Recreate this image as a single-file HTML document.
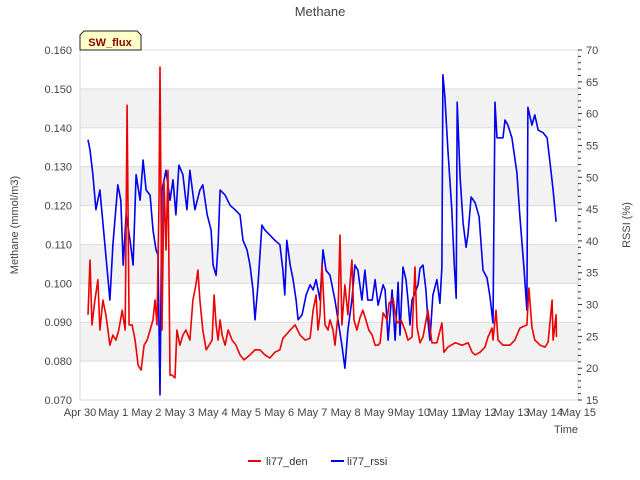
<!DOCTYPE html>
<html><head><meta charset="utf-8"><style>
body{margin:0;background:#fff;}
svg text{font-family:"Liberation Sans","DejaVu Sans",sans-serif;}
</style></head><body>
<svg id="chart" width="640" height="480" xmlns="http://www.w3.org/2000/svg">
<g id="bands"></g><g id="grid"></g>
<g id="series"></g><g id="axes"></g>
</svg>
<script>
const xTickLabels=["Apr 30","May 1","May 2","May 3","May 4","May 5","May 6","May 7","May 8","May 9","May 10","May 11","May 12","May 13","May 14","May 15"];
const leftTicks=[0.070,0.080,0.090,0.100,0.110,0.120,0.130,0.140,0.150,0.160];
const rightTicks=[15,20,25,30,35,40,45,50,55,60,65,70];
const denDays=[0.24,0.30,0.36,0.45,0.54,0.60,0.69,0.78,0.90,0.99,1.08,1.17,1.27,1.36,1.42,1.48,1.57,1.66,1.75,1.84,1.93,2.02,2.11,2.20,2.26,2.32,2.38,2.41,2.47,2.53,2.59,2.65,2.71,2.77,2.86,2.92,3.01,3.10,3.19,3.31,3.40,3.49,3.55,3.61,3.70,3.80,3.89,3.98,4.04,4.10,4.16,4.22,4.28,4.37,4.46,4.58,4.70,4.82,4.94,5.12,5.27,5.42,5.57,5.72,5.87,6.02,6.11,6.20,6.33,6.48,6.63,6.78,6.93,7.02,7.11,7.17,7.23,7.29,7.38,7.47,7.53,7.62,7.68,7.77,7.83,7.89,7.98,8.07,8.13,8.19,8.25,8.34,8.43,8.52,8.61,8.70,8.80,8.89,8.98,9.04,9.13,9.25,9.31,9.43,9.49,9.55,9.67,9.79,9.88,10.00,10.09,10.15,10.24,10.33,10.48,10.60,10.75,10.90,10.96,11.08,11.30,11.51,11.69,11.81,11.90,12.05,12.20,12.29,12.41,12.44,12.53,12.59,12.74,12.95,13.10,13.16,13.25,13.46,13.52,13.61,13.70,13.86,14.01,14.10,14.22,14.25,14.34,14.35];
const denValues=[.0919,.1060,.0893,.0957,.1009,.0880,.0957,.0919,.0841,.0867,.0854,.0880,.0931,.0880,.1458,.0893,.0893,.0854,.0790,.0777,.0841,.0854,.0880,.0906,.0957,.0893,.1214,.1556,.0880,.1265,.1086,.1291,.0764,.0764,.0757,.0880,.0841,.0867,.0880,.0854,.0957,.0996,.1034,.0957,.0880,.0829,.0841,.0854,.0970,.0893,.0854,.0906,.0867,.0841,.0880,.0854,.0841,.0816,.0803,.0816,.0829,.0829,.0816,.0808,.0823,.0829,.0859,.0867,.0880,.0893,.0867,.0854,.0859,.0931,.0970,.0880,.0919,.1047,.0893,.0880,.0906,.0880,.0841,.0919,.1124,.0893,.0996,.0919,.0996,.1060,.0906,.0880,.0911,.0931,.0906,.0880,.0867,.0841,.0841,.0847,.0924,.0906,.0949,.0962,.0924,.0898,.0906,.0880,.0854,.0862,.1042,.0888,.0847,.0862,.0931,.0847,.0847,.0898,.0823,.0836,.0847,.0841,.0847,.0823,.0816,.0823,.0836,.0862,.0885,.0854,.0931,.0854,.0841,.0841,.0854,.0867,.0885,.0893,.0988,.0888,.0854,.0841,.0836,.0849,.0957,.0854,.0919,.0862];
const rssiDays=[0.24,0.30,0.39,0.48,0.60,0.75,0.90,0.99,1.14,1.23,1.30,1.39,1.51,1.60,1.69,1.81,1.90,1.99,2.11,2.20,2.29,2.35,2.41,2.47,2.59,2.71,2.80,2.89,2.98,3.10,3.22,3.31,3.46,3.61,3.70,3.83,3.95,4.01,4.10,4.16,4.22,4.37,4.52,4.67,4.82,4.91,5.03,5.12,5.21,5.27,5.36,5.48,5.57,5.72,5.87,6.02,6.11,6.17,6.23,6.33,6.42,6.51,6.57,6.69,6.81,6.93,7.02,7.11,7.23,7.32,7.41,7.53,7.68,7.77,7.89,7.98,8.07,8.19,8.28,8.37,8.49,8.58,8.67,8.80,8.89,8.98,9.13,9.19,9.28,9.40,9.49,9.58,9.64,9.73,9.82,9.88,9.94,10.00,10.09,10.18,10.24,10.33,10.42,10.48,10.54,10.63,10.75,10.84,10.90,10.93,10.99,11.08,11.20,11.27,11.33,11.36,11.45,11.54,11.63,11.69,11.78,11.90,12.02,12.14,12.26,12.35,12.44,12.50,12.56,12.74,12.80,12.89,13.01,13.16,13.25,13.37,13.46,13.49,13.61,13.70,13.80,13.95,14.07,14.16,14.25,14.34];
const rssiValues=[55.9,54.3,50.4,44.9,48.0,39.4,30.7,39.4,48.8,46.4,36.2,44.1,40.1,36.2,50.4,46.4,52.7,48.0,47.2,41.7,38.6,37.8,15.8,48.0,51.1,46.4,49.6,44.1,51.9,50.4,44.9,51.1,44.9,48.0,48.8,44.1,41.7,36.2,34.6,39.4,48.0,47.2,45.6,44.9,44.1,40.1,38.6,36.2,32.3,27.6,33.1,42.5,41.7,40.9,40.1,39.4,35.4,31.5,40.1,36.2,33.9,30.7,27.6,28.4,31.5,33.1,32.3,33.9,30.7,38.6,35.4,34.6,30.7,27.6,23.6,20.0,26.0,30.7,36.2,35.4,30.7,35.4,30.7,30.7,33.9,29.9,33.1,32.3,24.4,32.3,24.4,33.5,25.2,35.9,33.9,30.7,26.8,30.7,31.8,33.1,35.7,36.2,32.3,27.6,24.4,31.5,33.9,30.2,35.9,66.1,62.6,54.3,44.9,36.5,31.0,61.8,50.0,42.8,39.0,41.2,46.9,46.0,43.8,35.4,34.2,31.2,27.1,61.8,56.2,56.2,59.0,58.2,56.2,50.7,43.8,35.9,29.1,61.0,58.2,59.8,57.4,57.0,56.2,52.2,48.0,43.0];

const NS="http://www.w3.org/2000/svg";
const L=80,R=578,T=50,B=400;
const x=d=>L+(R-L)*d/15;
const yL=v=>B-(B-T)*(v-0.07)/0.09;
const yR=v=>B-(B-T)*(v-15)/55;
function mk(tag,attrs,parent,text){const e=document.createElementNS(NS,tag);for(const k in attrs)e.setAttribute(k,attrs[k]);if(text!==undefined)e.textContent=text;document.getElementById(parent).appendChild(e);return e;}
// bands and grid
for(let i=0;i<leftTicks.length-1;i++){
  if(i%2===1){const b=mk('rect',{x:L,y:yL(leftTicks[i+1]),width:R-L,height:yL(leftTicks[i])-yL(leftTicks[i+1]),fill:'#f2f2f2'},'bands');
  
  }
}
leftTicks.forEach(v=>{const g=mk('line',{x1:L,x2:R,y1:yL(v),y2:yL(v),stroke:'#dcdcdc','stroke-width':1},'grid');

});
mk('rect',{x:L,y:T,width:R-L,height:B-T,fill:'none',stroke:'#d8d8d8'},'grid');
// series
function line(days,vals,fy,color,name){
  const p=mk('polyline',{points:days.map((d,i)=>x(d).toFixed(1)+','+fy(vals[i]).toFixed(1)).join(' '),fill:'none',stroke:color,'stroke-width':1.6,'stroke-linejoin':'round'},'series');
  
  
}
line(rssiDays,rssiValues,yR,'#0000ee','li77-rssi-line');
line(denDays,denValues,yL,'#ee0000','li77-den-line');
// axes labels
leftTicks.forEach(v=>{const t=mk('text',{x:72,y:yL(v)+4,'text-anchor':'end','font-size':11,fill:'#444'},'axes',v.toFixed(3));

});
for(let v=15;v<=70;v++){const major=v%5===0;mk('line',{x1:R,x2:R+(major?4:3),y1:yR(v),y2:yR(v),stroke:'#333','stroke-width':1},'axes');}
rightTicks.forEach(v=>{const t=mk('text',{x:586,y:yR(v)+4,'font-size':11,fill:'#444'},'axes',String(v));

});
xTickLabels.forEach((s,i)=>{const t=mk('text',{x:x(i),y:416,'text-anchor':'middle','font-size':11,fill:'#444'},'axes',s);

});
</script>
<svg style="position:absolute;left:0;top:0" width="640" height="480" xmlns="http://www.w3.org/2000/svg">
<text x="320" y="16" text-anchor="middle" font-size="13" fill="#444">Methane</text>
<text transform="translate(18,225) rotate(-90)" text-anchor="middle" font-size="11" fill="#444">Methane (mmol/m3)</text>
<text transform="translate(630,225) rotate(-90)" text-anchor="middle" font-size="11" fill="#444">RSSI (%)</text>
<text x="566" y="433" text-anchor="middle" font-size="11" fill="#444">Time</text>
<g>
<path d="M80,50 L80,35 L84,31 L137,31 L141,35 L141,50 Z" fill="#ffffc8" stroke="#222" stroke-width="1"/>
<text x="110" y="46" text-anchor="middle" font-size="11" font-weight="bold" fill="#8b0000">SW_flux</text>
</g>
<g>
<line x1="248" x2="261" y1="461" y2="461" stroke="#ee0000" stroke-width="2"/>
<text x="266" y="465" font-size="11" fill="#333">li77_den</text>
<line x1="331" x2="344" y1="461" y2="461" stroke="#0000ee" stroke-width="2"/>
<text x="347" y="465" font-size="11" fill="#333">li77_rssi</text>
</g>
</svg>
<style>body{position:relative;width:640px;height:480px;overflow:hidden}#chart{position:absolute;left:0;top:0}</style>
</body></html>
